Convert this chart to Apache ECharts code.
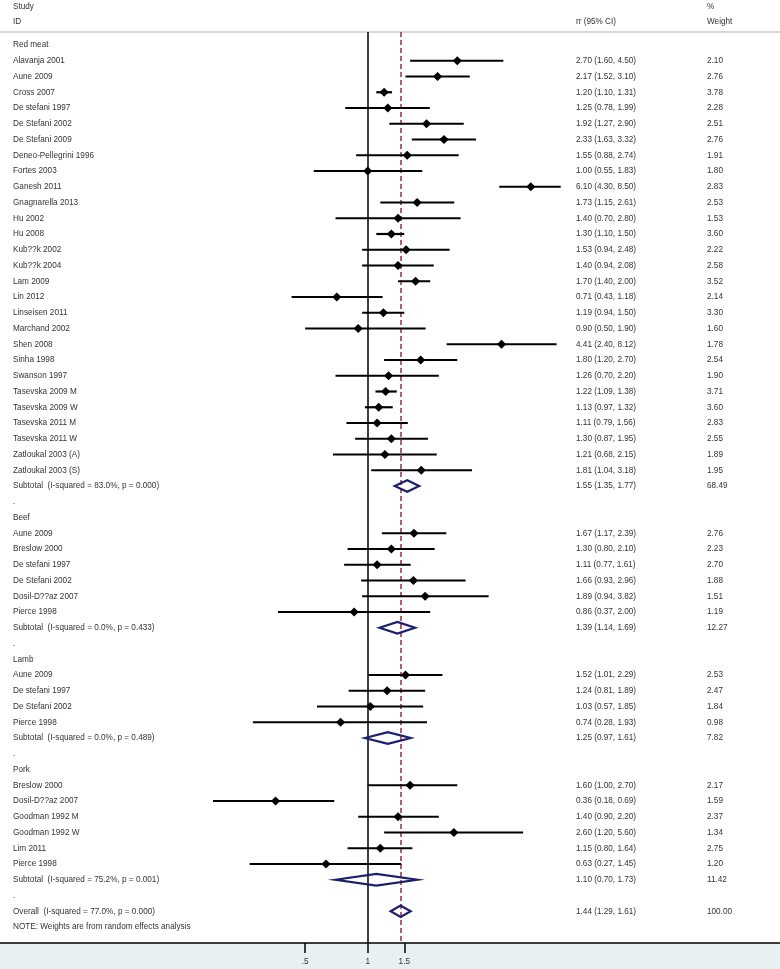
<!DOCTYPE html>
<html>
<head>
<meta charset="utf-8">
<script src="https://cdn.jsdelivr.net/npm/echarts@6.0.0/dist/echarts.min.js"></script>
<style>
html,body{margin:0;padding:0;background:#fff;}
#chart{width:780px;height:969px;}
</style>
</head>
<body>
<div id="chart"></div>
<script>
// ---------- DATA ----------
const redNames = ['Alavanja 2001','Aune 2009','Cross 2007','De stefani 1997','De Stefani 2002','De Stefani 2009','Deneo-Pellegrini 1996','Fortes 2003','Ganesh 2011','Gnagnarella 2013','Hu 2002','Hu 2008','Kub??k 2002','Kub??k 2004','Lam 2009','Lin 2012','Linseisen 2011','Marchand 2002','Shen 2008','Sinha 1998','Swanson 1997','Tasevska 2009 M','Tasevska 2009 W','Tasevska 2011 M','Tasevska 2011 W','Zatloukal 2003 (A)','Zatloukal 2003 (S)'];
const redRR = [2.70,2.17,1.20,1.25,1.92,2.33,1.55,1.00,6.10,1.73,1.40,1.30,1.53,1.40,1.70,0.71,1.19,0.90,4.41,1.80,1.26,1.22,1.13,1.11,1.30,1.21,1.81];
const redLo = [1.60,1.52,1.10,0.78,1.27,1.63,0.88,0.55,4.30,1.15,0.70,1.10,0.94,0.94,1.40,0.43,0.94,0.50,2.40,1.20,0.70,1.09,0.97,0.79,0.87,0.68,1.04];
const redHi = [4.50,3.10,1.31,1.99,2.90,3.32,2.74,1.83,8.50,2.61,2.80,1.50,2.48,2.08,2.00,1.18,1.50,1.90,8.12,2.70,2.20,1.38,1.32,1.56,1.95,2.15,3.18];
const redWt = [2.10,2.76,3.78,2.28,2.51,2.76,1.91,1.80,2.83,2.53,1.53,3.60,2.22,2.58,3.52,2.14,3.30,1.60,1.78,2.54,1.90,3.71,3.60,2.83,2.55,1.89,1.95];
const redSub = ['Subtotal  (I-squared = 83.0%, p = 0.000)', 1.55, 1.35, 1.77, 68.49];

const beefNames = ['Aune 2009','Breslow 2000','De stefani 1997','De Stefani 2002','Dosil-D??az 2007','Pierce 1998'];
const beefRR = [1.67,1.30,1.11,1.66,1.89,0.86];
const beefLo = [1.17,0.80,0.77,0.93,0.94,0.37];
const beefHi = [2.39,2.10,1.61,2.96,3.82,2.00];
const beefWt = [2.76,2.23,2.70,1.88,1.51,1.19];
const beefSub = ['Subtotal  (I-squared = 0.0%, p = 0.433)', 1.39, 1.14, 1.69, 12.27];

const lambNames = ['Aune 2009','De stefani 1997','De Stefani 2002','Pierce 1998'];
const lambRR = [1.52,1.24,1.03,0.74];
const lambLo = [1.01,0.81,0.57,0.28];
const lambHi = [2.29,1.89,1.85,1.93];
const lambWt = [2.53,2.47,1.84,0.98];
const lambSub = ['Subtotal  (I-squared = 0.0%, p = 0.489)', 1.25, 0.97, 1.61, 7.82];

const porkNames = ['Breslow 2000','Dosil-D??az 2007','Goodman 1992 M','Goodman 1992 W','Lim 2011','Pierce 1998'];
const porkRR = [1.60,0.36,1.40,2.60,1.15,0.63];
const porkLo = [1.00,0.18,0.90,1.20,0.80,0.27];
const porkHi = [2.70,0.69,2.20,5.60,1.64,1.45];
const porkWt = [2.17,1.59,2.37,1.34,2.75,1.20];
const porkSub = ['Subtotal  (I-squared = 75.2%, p = 0.001)', 1.10, 0.70, 1.73, 11.42];

const groupNames = ['Red meat','Beef','Lamb','Pork'];
const overall = ['Overall  (I-squared = 77.0%, p = 0.000)', 1.44, 1.29, 1.61, 100.00];
const noteText = 'NOTE: Weights are from random effects analysis';
const xTicks = [0.5, 1, 1.5];
const tickLabels = ['.5', '1', '1.5'];

// ---------- BUILD ROWS ----------
const groups = [
  [redNames, redRR, redLo, redHi, redWt, redSub],
  [beefNames, beefRR, beefLo, beefHi, beefWt, beefSub],
  [lambNames, lambRR, lambLo, lambHi, lambWt, lambSub],
  [porkNames, porkRR, porkLo, porkHi, porkWt, porkSub]
];
const rows = [];
const fmtCI = (r, l, h) => r.toFixed(2) + ' (' + l.toFixed(2) + ', ' + h.toFixed(2) + ')';
groups.forEach((g, gi) => {
  rows.push({label: groupNames[gi], type: 'head'});
  g[0].forEach((n, i) => rows.push({label: n, type: 'study', rr: g[1][i], lo: g[2][i], hi: g[3][i], ci: fmtCI(g[1][i], g[2][i], g[3][i]), wt: g[4][i].toFixed(2)}));
  const s = g[5];
  rows.push({label: s[0], type: 'sub', rr: s[1], lo: s[2], hi: s[3], ci: fmtCI(s[1], s[2], s[3]), wt: s[4].toFixed(2)});
  rows.push({label: '.', type: 'dot'});
});
rows.push({label: overall[0], type: 'sub', rr: overall[1], lo: overall[2], hi: overall[3], ci: fmtCI(overall[1], overall[2], overall[3]), wt: overall[4].toFixed(2)});
rows.push({label: noteText, type: 'note'});

const textData = rows.map((r, i) => [i, 1]);
const studyData = [];
const subData = [];
rows.forEach((r, i) => {
  if (r.type === 'study') studyData.push([i, r.rr, r.lo, r.hi]);
  if (r.type === 'sub') subData.push([i, r.rr, r.lo, r.hi]);
});

// ---------- LAYOUT ----------
const W = 780, H = 969;
const PX_PER_LN = 90.2, X_ONE = 367.7;
const xMin = Math.exp(-X_ONE / PX_PER_LN);
const xMax = Math.exp((W - X_ONE) / PX_PER_LN);
const gridTop = 32, axisY = 943;
const ROW0 = 45, ROWH = 15.75;
const yMin = (gridTop - ROW0) / ROWH;
const yMax = (axisY - ROW0) / ROWH;
const FONT = 'Liberation Sans, Arial, Helvetica, sans-serif';
const FS = 8.2;
const TXT = '#333333';
const COL_LABEL = 13, COL_CI = 576, COL_WT = 707;

const chart = echarts.init(document.getElementById('chart'), null, {renderer: 'canvas'});

function txt(x, y, s) {
  return {type: 'text', style: {text: s, x: x, y: y, fill: TXT, fontSize: FS, fontFamily: FONT, align: 'left', verticalAlign: 'middle'}};
}

const option = {
  animation: false,
  backgroundColor: '#ffffff',
  grid: {left: 0, right: 0, top: gridTop, bottom: H - axisY, containLabel: false},
  xAxis: {
    type: 'log', logBase: Math.E, min: xMin, max: xMax, position: 'bottom',
    axisLine: {show: true, onZero: false, lineStyle: {color: '#000', width: 1.5}},
    axisTick: {show: true, inside: false, length: 10, lineStyle: {color: '#000', width: 1.5}, customValues: xTicks},
    axisLabel: {show: true, margin: 15, fontSize: FS, fontFamily: FONT, color: TXT, customValues: xTicks,
      formatter: v => { const k = xTicks.findIndex(t => Math.abs(t - v) < 1e-6); return k >= 0 ? tickLabels[k] : ''; }},
    splitLine: {show: false}, minorTick: {show: false}
  },
  yAxis: {type: 'value', inverse: true, min: yMin, max: yMax, show: false},
  graphic: [
    {type: 'rect', z: -10, silent: true, shape: {x: 0, y: axisY, width: W, height: H - axisY}, style: {fill: '#e9f0f3'}},
    {type: 'line', silent: true, shape: {x1: 0, y1: gridTop, x2: W, y2: gridTop}, style: {stroke: '#b0b0b0', lineWidth: 1.2}},
    {type: 'text', silent: true, x: COL_LABEL, y: 7, style: {text: 'Study', fill: TXT, fontSize: FS, fontFamily: FONT, verticalAlign: 'middle'}},
    {type: 'text', silent: true, x: COL_LABEL, y: 22, style: {text: 'ID', fill: TXT, fontSize: FS, fontFamily: FONT, verticalAlign: 'middle'}},
    {type: 'text', silent: true, x: COL_CI, y: 22, style: {text: 'rr (95% CI)', fill: TXT, fontSize: FS, fontFamily: FONT, verticalAlign: 'middle'}},
    {type: 'text', silent: true, x: COL_WT, y: 7, style: {text: '%', fill: TXT, fontSize: FS, fontFamily: FONT, verticalAlign: 'middle'}},
    {type: 'text', silent: true, x: COL_WT, y: 22, style: {text: 'Weight', fill: TXT, fontSize: FS, fontFamily: FONT, verticalAlign: 'middle'}}
  ],
  series: [
    {
      type: 'custom', name: 'text', clip: false, z: 3,
      encode: {x: 1, y: 0},
      data: textData,
      renderItem: function (params, api) {
        const r = rows[params.dataIndex];
        const y = api.coord([1, api.value(0)])[1];
        const children = [txt(COL_LABEL, y, r.label)];
        if (r.ci) children.push(txt(COL_CI, y, r.ci));
        if (r.wt) children.push(txt(COL_WT, y, r.wt));
        return {type: 'group', children: children};
      },
      markLine: {
        silent: true, symbol: 'none', label: {show: false}, z: 1,
        data: [
          {xAxis: 1, lineStyle: {color: '#000', width: 1.5, type: 'solid'}},
          {xAxis: overall[1], lineStyle: {color: '#9b2c3c', width: 1.5, type: [5, 3]}}
        ]
      }
    },
    {
      type: 'custom', name: 'studies', clip: false, z: 4,
      encode: {x: [1, 2, 3], y: 0},
      data: studyData,
      renderItem: function (params, api) {
        const row = api.value(0);
        const p = api.coord([api.value(1), row]);
        const a = api.coord([api.value(2), row]);
        const b = api.coord([api.value(3), row]);
        const s = 4.6;
        return {type: 'group', children: [
          {type: 'line', shape: {x1: a[0], y1: a[1], x2: b[0], y2: b[1]}, style: {stroke: '#000', lineWidth: 2.2}},
          {type: 'polygon', shape: {points: [[p[0] - s, p[1]], [p[0], p[1] - s], [p[0] + s, p[1]], [p[0], p[1] + s]]}, style: {fill: '#000'}}
        ]};
      }
    },
    {
      type: 'custom', name: 'subtotals', clip: false, z: 4,
      encode: {x: [1, 2, 3], y: 0},
      data: subData,
      renderItem: function (params, api) {
        const row = api.value(0);
        const p = api.coord([api.value(1), row]);
        const a = api.coord([api.value(2), row]);
        const b = api.coord([api.value(3), row]);
        const h = 5.8;
        return {type: 'polygon', shape: {points: [[a[0], a[1]], [p[0], p[1] - h], [b[0], b[1]], [p[0], p[1] + h]]},
          style: {fill: 'none', stroke: '#1b1f6e', lineWidth: 2.2, lineJoin: 'miter'}};
      }
    }
  ]
};
chart.setOption(option);
</script>
</body>
</html>
